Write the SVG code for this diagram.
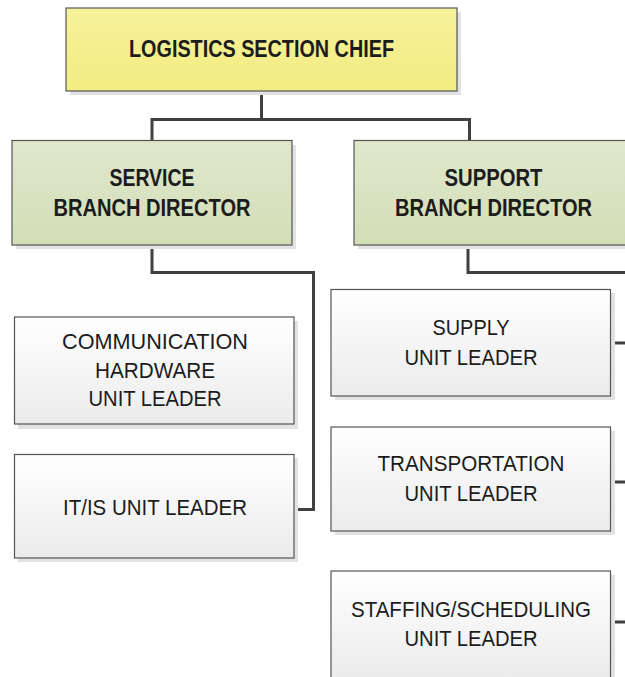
<svg xmlns="http://www.w3.org/2000/svg" width="625" height="677" viewBox="0 0 625 677">
<defs>
<linearGradient id="gY" x1="0" y1="0" x2="0" y2="1"><stop offset="0" stop-color="#f6f29a"/><stop offset="1" stop-color="#f2ec82"/></linearGradient>
<linearGradient id="gG" x1="0" y1="0" x2="0" y2="1"><stop offset="0" stop-color="#e0e7cd"/><stop offset="1" stop-color="#d3deb6"/></linearGradient>
<linearGradient id="gW" x1="0" y1="0" x2="0" y2="1"><stop offset="0" stop-color="#ffffff"/><stop offset="1" stop-color="#ebebeb"/></linearGradient>
</defs>
<style>
.sh{fill:#e2e2e2}
.box{stroke:#555555;stroke-width:1.2}
.y{fill:url(#gY)}
.g{fill:url(#gG)}
.w{fill:url(#gW)}
text{font-family:"Liberation Sans",Arial,sans-serif;fill:#1c1c1c;text-anchor:middle}
.b{font-weight:bold;font-size:23px}
.r{font-size:21.5px}
.conn{fill:none;stroke:#404040;stroke-width:3}
</style>
<rect width="625" height="677" fill="#ffffff"/>
<g id="connectors" class="conn">
<path d="M261.5 92 V119.5 H152 V140 M261.5 119.5 H469.5 V140"/>
<path d="M152 245 V272.5 H313.5 V509.5 H294"/>
<path d="M468 245 V272.5 H628 V622 M610 343 H628 M610 482 H628 M610 622 H628"/>
</g>
<g id="chief">
<rect class="sh" x="70" y="12" width="391" height="83"/>
<rect class="box y" x="66" y="8" width="391" height="83"/>
<text class="b" x="261.5" y="57" textLength="265" lengthAdjust="spacingAndGlyphs">LOGISTICS SECTION CHIEF</text>
</g>
<g id="service">
<rect class="sh" x="16" y="145" width="280" height="104"/>
<rect class="box g" x="12" y="140.5" width="280" height="104.5"/>
<text class="b" x="152" y="186" textLength="85" lengthAdjust="spacingAndGlyphs">SERVICE</text>
<text class="b" x="152" y="216" textLength="197" lengthAdjust="spacingAndGlyphs">BRANCH DIRECTOR</text>
</g>
<g id="support">
<rect class="sh" x="358" y="145" width="280" height="104"/>
<rect class="box g" x="354" y="140.5" width="290" height="104.5"/>
<text class="b" x="493.5" y="186" textLength="98" lengthAdjust="spacingAndGlyphs">SUPPORT</text>
<text class="b" x="493.5" y="216" textLength="197" lengthAdjust="spacingAndGlyphs">BRANCH DIRECTOR</text>
</g>
<g id="comm">
<rect class="sh" x="18" y="321" width="280" height="108"/>
<rect class="box w" x="14.5" y="317" width="279.5" height="107"/>
<text class="r" x="155" y="348.5" textLength="186" lengthAdjust="spacingAndGlyphs">COMMUNICATION</text>
<text class="r" x="155" y="377.5" textLength="120" lengthAdjust="spacingAndGlyphs">HARDWARE</text>
<text class="r" x="155" y="406" textLength="133" lengthAdjust="spacingAndGlyphs">UNIT LEADER</text>
</g>
<g id="itis">
<rect class="sh" x="18" y="458" width="280" height="104"/>
<rect class="box w" x="14.5" y="454.5" width="279.5" height="103.5"/>
<text class="r" x="155" y="514.5" textLength="184" lengthAdjust="spacingAndGlyphs">IT/IS UNIT LEADER</text>
</g>
<g id="supply">
<rect class="sh" x="335" y="293" width="280" height="107"/>
<rect class="box w" x="331" y="289.5" width="279.5" height="106.5"/>
<text class="r" x="471" y="335" textLength="77" lengthAdjust="spacingAndGlyphs">SUPPLY</text>
<text class="r" x="471" y="364.5" textLength="133" lengthAdjust="spacingAndGlyphs">UNIT LEADER</text>
</g>
<g id="transport">
<rect class="sh" x="335" y="431" width="280" height="104"/>
<rect class="box w" x="331" y="427" width="279.5" height="104"/>
<text class="r" x="471" y="471" textLength="187" lengthAdjust="spacingAndGlyphs">TRANSPORTATION</text>
<text class="r" x="471" y="500.5" textLength="133" lengthAdjust="spacingAndGlyphs">UNIT LEADER</text>
</g>
<g id="staffing">
<rect class="sh" x="335" y="575" width="280" height="110"/>
<rect class="box w" x="331" y="571" width="279.5" height="110"/>
<text class="r" x="471" y="616.5" textLength="240" lengthAdjust="spacingAndGlyphs">STAFFING/SCHEDULING</text>
<text class="r" x="471" y="646" textLength="133" lengthAdjust="spacingAndGlyphs">UNIT LEADER</text>
</g>
</svg>
